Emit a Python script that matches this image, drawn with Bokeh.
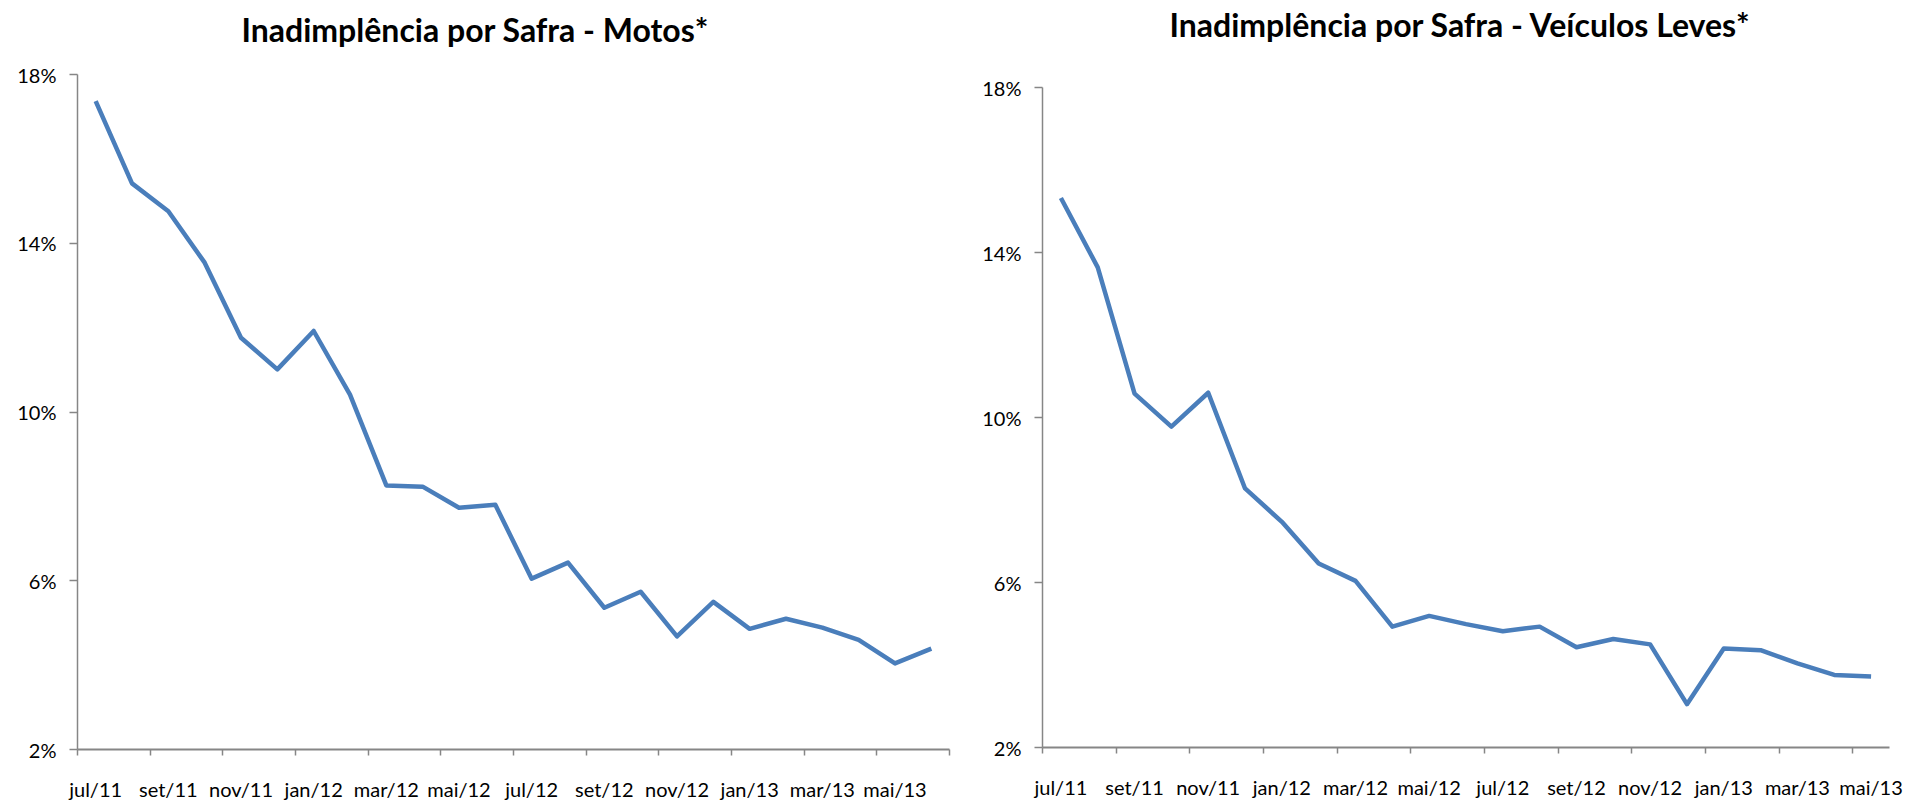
from bokeh.plotting import figure
from bokeh.layouts import row, column
from bokeh.models import Range1d, FixedTicker, PrintfTickFormatter, Title, ColumnDataSource
from bokeh.embed import file_html
from bokeh.resources import INLINE

# ---- data ----
months_motos = ["jul/11", "ago/11", "set/11", "out/11", "nov/11", "dez/11",
                "jan/12", "fev/12", "mar/12", "abr/12", "mai/12", "jun/12",
                "jul/12", "ago/12", "set/12", "out/12", "nov/12", "dez/12",
                "jan/13", "fev/13", "mar/13", "abr/13", "mai/13", "jun/13"]
motos = [17.37, 15.42, 14.76, 13.54, 11.76, 11.01,
         11.92, 10.41, 8.26, 8.23, 7.73, 7.80,
         6.05, 6.43, 5.36, 5.74, 4.68, 5.50,
         4.86, 5.10, 4.89, 4.60, 4.04, 4.39]

months_leves = months_motos[:23]
leves = [15.32, 13.64, 10.58, 9.78, 10.60, 8.28,
         7.47, 6.46, 6.04, 4.93, 5.19, 4.99,
         4.82, 4.93, 4.43, 4.63, 4.50, 3.05,
         4.40, 4.36, 4.04, 3.76, 3.72]

y_ticks = [2, 6, 10, 14, 18]
titles = ["Inadimplência por Safra - Motos*", "Inadimplência por Safra - Veículos Leves*"]

LINE = "#4A7EBB"
AXIS = "#868686"
FONT = "Lato"
H = 803


def make_chart(months, values, title, width, borders, title_offset, title_gap):
    n = len(months)
    xs = [i + 0.5 for i in range(n)]
    src = ColumnDataSource(dict(x=xs, y=values, m=months))
    bl, br, bt, bb = borders
    p = figure(width=width, height=H, output_backend="svg", toolbar_location=None,
               x_range=Range1d(0, n),
               y_range=Range1d(y_ticks[0], y_ticks[-1]),
               min_border_left=bl, min_border_right=br,
               min_border_top=bt, min_border_bottom=bb)
    p.outline_line_color = None
    p.xgrid.visible = False
    p.ygrid.visible = False
    p.background_fill_color = "white"
    p.border_fill_color = "white"

    p.line("x", "y", source=src, line_color=LINE, line_width=4.5, line_join="round")

    # y axis
    ya = p.left[0]
    ya.ticker = FixedTicker(ticks=y_ticks, minor_ticks=[])
    ya.formatter = PrintfTickFormatter(format="%d%%")
    ya.axis_line_color = AXIS
    ya.axis_line_width = 1.5
    ya.major_tick_line_color = AXIS
    ya.major_tick_line_width = 1.5
    ya.major_tick_out = 8
    ya.major_tick_in = 0
    ya.minor_tick_line_color = None
    ya.major_label_standoff = 13
    ya.major_label_text_font = FONT
    ya.major_label_text_font_size = "20px"
    ya.major_label_text_color = "#000000"

    # x axis: labels every 2nd category, tick marks between category pairs
    xa = p.below[0]
    label_pos = [i + 0.5 for i in range(0, n, 2)]
    boundaries = [float(i) for i in range(0, n + 1, 2)]
    xa.ticker = FixedTicker(ticks=label_pos, minor_ticks=boundaries)
    xa.major_label_overrides = {i + 0.5: months[i] for i in range(0, n, 2)}
    xa.axis_line_color = AXIS
    xa.axis_line_width = 2
    xa.major_tick_line_color = None
    xa.major_tick_out = 0
    xa.major_tick_in = 0
    xa.minor_tick_line_color = AXIS
    xa.minor_tick_line_width = 1.5
    xa.minor_tick_out = 6
    xa.minor_tick_in = 0
    xa.major_label_standoff = 21
    xa.major_label_text_font = FONT
    xa.major_label_text_font_size = "20px"
    xa.major_label_text_color = "#000000"

    # title, lifted above the plot area by an empty spacer title
    p.title = None
    p.add_layout(Title(text=" ", standoff=title_gap, text_font_size="2px",
                       text_color="white"), "above")
    p.add_layout(Title(text=title, align="left", offset=title_offset, standoff=0,
                       text_font=FONT, text_font_style="bold", text_font_size="32px",
                       text_color="#000000"), "above")
    return p


# left: page x 0..972, frame x 77..949, 18% at y=74, 2% at y=751
p1 = make_chart(months_motos, motos, titles[0], 972, (77, 23, 74, 52), 164, 22)
# right: page x 972..1908, frame x 1042..1889, 18% at y=87, 2% at y=747
p2 = make_chart(months_leves, leves, titles[1], 936, (70, 19, 87, 56), 127, 40)

layout = row(column(p1), column(p2))
open("out.html", "w").write(file_html(layout, INLINE))
